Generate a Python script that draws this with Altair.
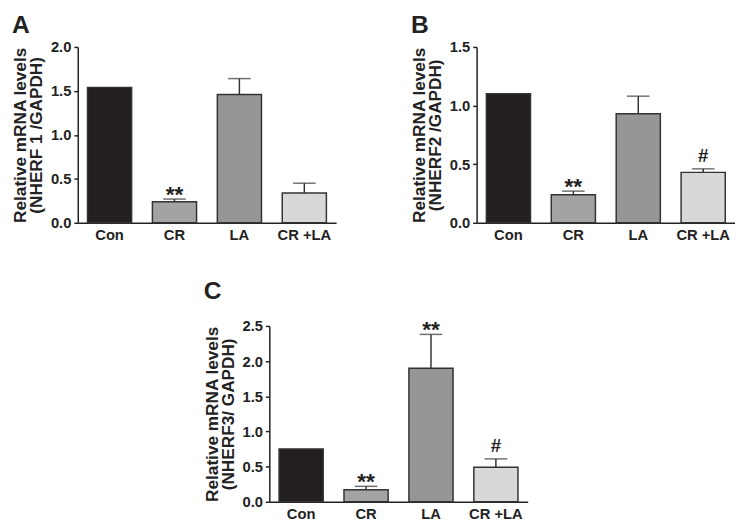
import altair as alt
import pandas as pd

cats = ["Con", "CR", "LA", "CR +LA"]
colors = ["#231f20", "#a3a3a3", "#969696", "#d8d8d8"]

a_vals = [1.54, 0.24, 1.46, 0.34]
a_errs = [0.0, 0.03, 0.18, 0.11]
a_ann = ["", "**", "", ""]

b_vals = [1.10, 0.24, 0.93, 0.43]
b_errs = [0.0, 0.03, 0.15, 0.03]
b_ann = ["", "**", "", "#"]

c_vals = [0.75, 0.17, 1.90, 0.49]
c_errs = [0.0, 0.05, 0.48, 0.12]
c_ann = ["", "**", "**", "#"]

FONT = "Liberation Sans"
W = 263
H = 179
EDGE = "#333333"


def panel(letter, vals, errs, ann, ymax, title2, toff):
    df = pd.DataFrame({
        "cat": cats,
        "val": vals,
        "err": errs,
        "top": [v + e for v, e in zip(vals, errs)],
        "ann": ann,
    })
    base = alt.Chart(df)
    x = alt.X("cat:N", sort=cats,
              scale=alt.Scale(paddingInner=0.32, paddingOuter=0.15),
              axis=alt.Axis(title=None, labelAngle=0, ticks=False,
                            labelFont=FONT, labelFontSize=15, labelFontWeight="bold",
                            labelColor="#222", labelPadding=5,
                            domainColor="#222", domainWidth=1.5))
    ticks = [round(i * 0.5, 1) for i in range(int(round(ymax / 0.5)) + 1)]
    yscale = alt.Scale(domain=[0, ymax], nice=False)
    yaxis = alt.Axis(values=ticks, format=".1f", grid=False, labelOverlap=False,
                     title=["Relative mRNA levels", title2],
                     titleFont=FONT, titleFontSize=17.5, titleFontWeight="bold",
                     titleColor="#222", titleLineHeight=16, titlePadding=5,
                     labelFont=FONT, labelFontSize=15, labelFontWeight="bold",
                     labelColor="#222", labelPadding=3,
                     tickSize=4, tickColor="#222", tickWidth=1.5,
                     domainColor="#222", domainWidth=1.5)
    y_val = alt.Y("val:Q", scale=yscale, axis=yaxis)
    y_top = alt.Y("top:Q", scale=yscale, axis=yaxis)
    bars = base.mark_bar(stroke=EDGE, strokeWidth=1.5).encode(
        x=x, y=y_val,
        color=alt.Color("cat:N", scale=alt.Scale(domain=cats, range=colors), legend=None),
    )
    eb = base.transform_filter("datum.err > 0")
    err = eb.mark_rule(color=EDGE, strokeWidth=1.5).encode(x=x, y=y_val, y2="top:Q")
    cap = eb.mark_tick(color=EDGE, thickness=1.5, size=23).encode(x=x, y=y_top)
    stars = base.transform_filter("datum.ann == '**'").mark_text(
        font=FONT, fontSize=23, fontWeight="bold", baseline="alphabetic", dy=3, color="#222"
    ).encode(x=x, y=y_top, text="ann:N")
    hashes = base.transform_filter("datum.ann == '#'").mark_text(
        font=FONT, fontSize=19, fontWeight="bold", baseline="alphabetic", dy=-7, color="#222"
    ).encode(x=x, y=y_top, text="ann:N")
    return alt.layer(bars, err, cap, stars, hashes).properties(
        width=W, height=H,
        title=alt.TitleParams(letter, anchor="start", frame="bounds", font=FONT,
                              fontSize=25, fontWeight="bold", color="#222", offset=toff),
    )


pa = panel("A", a_vals, a_errs, a_ann, 2.0, "(NHERF 1 /GAPDH)", 2)
pb = panel("B", b_vals, b_errs, b_ann, 1.5, "(NHERF2 /GAPDH)", 2)
pc = panel("C", c_vals, c_errs, c_ann, 2.5, "(NHERF3/ GAPDH)", 15)

spacer = alt.Chart(pd.DataFrame({"a": [0]})).mark_point(opacity=0).encode(
    x=alt.value(0), y=alt.value(0)
).properties(width=128, height=H)

top = alt.hconcat(pa, pb, spacing=76)
bottom = alt.concat(spacer, pc, columns=2, align="none", spacing=0)
chart = alt.vconcat(top, bottom, spacing=38).properties(
    padding={"left": 4, "top": 1, "right": 0, "bottom": 0}
).configure_view(stroke=None)

chart.save("out.html", embed_options={"renderer": "svg", "actions": False})
